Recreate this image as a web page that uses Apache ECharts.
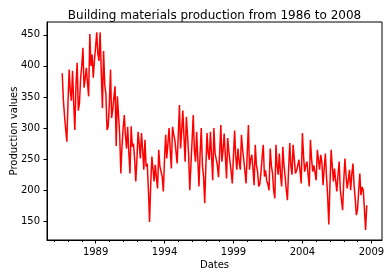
<!DOCTYPE html>
<html>
<head>
<meta charset="utf-8">
<script src="https://cdn.jsdelivr.net/npm/echarts@6/dist/echarts.min.js"></script>
<style>html,body{margin:0;padding:0;background:#fff;}#c{width:392px;height:278px;}</style>
</head>
<body>
<div id="c"></div>
<script>
// Monthly values, month-end dates starting July 1986
var startYear = 1986, startMonth = 7;
var values = [388,345,320,298,278,340,394,360,344,392,340,297,370,405,328,340,380,400,429,365,
380,397,372,351,451,400,418,381,408,430,454,420,408,454,390,332,424,370,355,297,
302,340,394,316,330,350,367,271,351,320,290,227,270,300,321,290,267,302,260,227,
303,270,275,250,214,250,294,275,251,292,265,233,281,238,243,200,149,210,254,235,
214,241,220,203,265,238,240,222,198,250,289,251,275,300,265,235,302,290,281,262,
243,290,337,267,295,328,285,246,318,290,257,200,240,280,321,265,246,294,250,206,
260,300,240,222,179,240,292,260,249,294,255,216,300,260,250,240,221,260,305,246,
265,291,255,219,284,262,246,230,211,255,296,255,233,267,245,233,289,265,249,230,
211,260,305,233,250,257,235,208,273,240,230,206,210,230,255,273,222,232,215,210,
200,267,240,227,200,187,273,240,225,259,225,206,270,240,222,200,184,235,276,240,
225,273,250,227,232,240,249,230,211,292,255,230,240,246,225,206,281,250,230,240,
243,216,265,250,233,257,245,208,235,259,222,190,145,210,265,240,214,235,215,198,
225,246,200,185,168,215,251,225,203,216,233,200,225,243,208,185,160,170,200,227,
192,205,200,170,136,176];
var majorYears = [1989, 1994, 1999, 2004, 2009];
var minorYears = [1986,1987,1988,1990,1991,1992,1993,1995,1996,1997,1998,2000,2001,2002,2003,2005,2006,2007,2008];
var yTicks = [150, 200, 250, 300, 350, 400, 450];

function yearFrac(t) {
  var d = new Date(t), y = d.getUTCFullYear();
  var a = Date.UTC(y, 0, 1), b = Date.UTC(y + 1, 0, 1);
  return y + (t - a) / (b - a);
}
var data = values.map(function (v, k) {
  var t = Date.UTC(startYear, startMonth + k, 0); // last day of month
  return [yearFrac(t), v];
});

var FONT = 'DejaVu Sans';
var chart = echarts.init(document.getElementById('c'), null, {renderer: 'canvas'});
chart.setOption({
  animation: false,
  title: {
    text: 'Building materials production from 1986 to 2008',
    left: 209.5, top: 5, textAlign: 'center',
    textStyle: {fontFamily: FONT, fontSize: 12, fontWeight: 'normal', color: '#000'}
  },
  grid: {left: 47, right: 10, top: 22, bottom: 38, containLabel: false, outerBoundsMode: 'none',
    show: true, borderColor: '#000', borderWidth: 1, backgroundColor: 'transparent'},
  xAxis: [{
    type: 'value', min: 1985.475, max: 2009.77,
    name: 'Dates', nameLocation: 'middle', nameGap: 20, nameMoveOverlap: false,
    nameTextStyle: {fontFamily: FONT, fontSize: 10, color: '#000'},
    axisLine: {show: true, lineStyle: {color: '#000', width: 1}},
    axisTick: {show: true, customValues: majorYears, length: 3.5, inside: false, lineStyle: {color: '#000', width: 1}},
    axisLabel: {show: true, customValues: majorYears, margin: 7, fontFamily: FONT, fontSize: 10, color: '#000', formatter: function (v) { return String(Math.round(v)); }},
    splitLine: {show: false}
  }, {
    type: 'value', min: 1985.475, max: 2009.77, position: 'bottom', gridIndex: 0,
    axisLine: {show: false},
    axisTick: {show: true, customValues: minorYears, length: 2, inside: false, lineStyle: {color: '#000', width: 1}},
    axisLabel: {show: false},
    splitLine: {show: false}
  }],
  yAxis: {
    type: 'value', min: 120, max: 470.5,
    name: 'Production values', nameLocation: 'middle', nameGap: 28, nameMoveOverlap: false,
    nameTextStyle: {fontFamily: FONT, fontSize: 10, color: '#000'},
    axisLine: {show: true, lineStyle: {color: '#000', width: 1}},
    axisTick: {show: true, customValues: yTicks, length: 3.5, inside: false, lineStyle: {color: '#000', width: 1}},
    axisLabel: {show: true, customValues: yTicks, margin: 7, fontFamily: FONT, fontSize: 10, color: '#000'},
    splitLine: {show: false}
  },
  series: [{
    type: 'line', data: data, xAxisIndex: 0,
    showSymbol: false, symbol: 'none',
    lineStyle: {color: '#ff0000', width: 1.5},
    itemStyle: {color: '#ff0000'}
  }]
});
</script>
</body>
</html>
